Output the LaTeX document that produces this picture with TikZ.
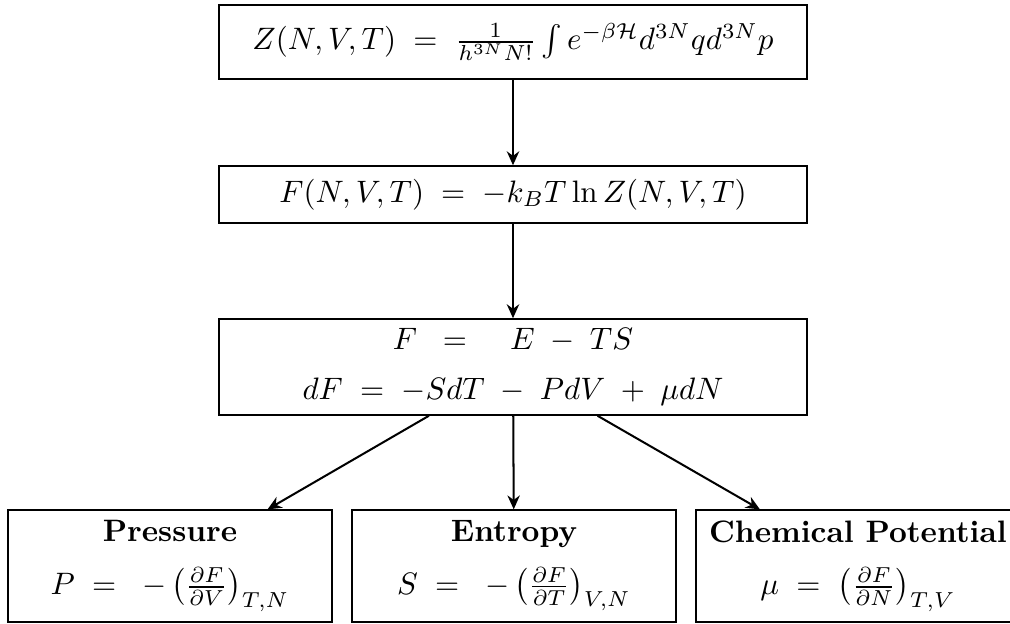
\documentclass[tikz,border=0pt]{standalone}
\usepackage{amsmath}
\usetikzlibrary{arrows.meta}

\begin{document}
\begin{tikzpicture}[x=0.3226pt,y=-0.3226pt,
    box/.style={draw,line width=0.45pt,inner sep=0pt,align=center},
    topbox/.style={box,minimum width=189.7pt},
    leafbox/.style={box,minimum width=104.5pt,minimum height=36.1pt},
    link/.style={-{Stealth[length=4.5pt,width=4pt]},line width=0.65pt}]
  \useasboundingbox (0,0) rectangle (1010,624);
  % chain from the partition function down to F
  \node[topbox,minimum height=23.9pt] (part) at (513,42)
    {$Z(N,V,T) \;=\; \frac{1}{h^{3N}N!}\int e^{-\beta\mathcal{H}}d^{3N}qd^{3N}p$};
  \node[topbox,minimum height=18.4pt] (free) at (513,194.5)
    {$F(N,V,T) \;=\; -k_BT\ln Z(N,V,T)$};
  \node[topbox,minimum height=31pt] (legendre) at (513,367)
    {$F \;\;=\;\;\;\; E \;-\; TS$\\[4pt]$dF \;=\; -SdT \;-\; PdV \;+\; \mu dN$};
  % derivatives of F
  \node[leafbox] (pres) at (170,566)
    {\textbf{Pressure}\\[5pt]$P \;=\; \;-\left(\frac{\partial F}{\partial V}\right)_{T,N}$};
  \node[leafbox] (entr) at (514,566)
    {\textbf{Entropy}\\[5pt]$S \;=\; \;-\left(\frac{\partial F}{\partial T}\right)_{V,N}$};
  \node[leafbox] (chem) at (858,566)
    {\textbf{Chemical Potential}\\[5pt]$\mu \;=\; \left(\frac{\partial F}{\partial N}\right)_{T,V}$};
  \draw[link] (part) -- (free);
  \draw[link] (free) -- (legendre);
  \foreach \leaf in {pres,entr,chem}
    \draw[link] (legendre) -- (\leaf);
\end{tikzpicture}
\end{document}
